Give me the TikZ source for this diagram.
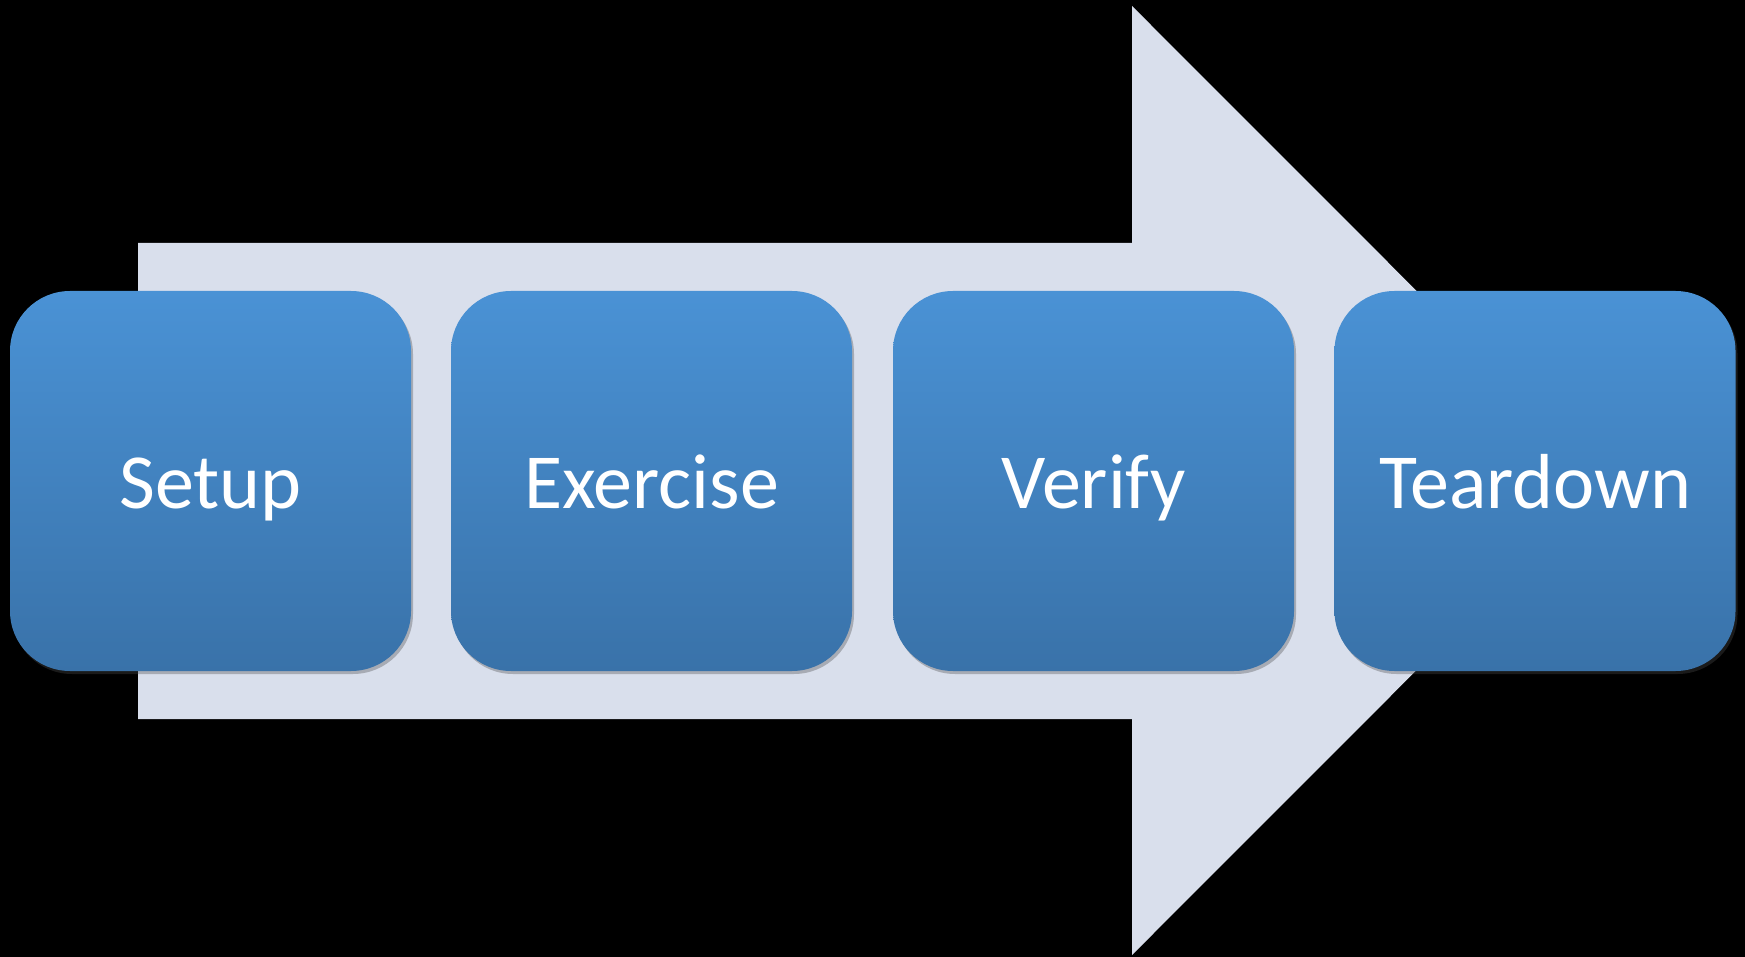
\documentclass[tikz,border=0pt]{standalone}
\usepackage{fontspec}
\setmainfont{Carlito}
\usetikzlibrary{shadows}
\definecolor{arrowfill}{HTML}{D9DFEC}
\definecolor{boxtop}{HTML}{4A92D5}
\definecolor{boxbot}{HTML}{3972A9}
\tikzset{
  stepbox/.style={rectangle, rounded corners=60pt, minimum width=401pt, minimum height=380pt,
    inner sep=0pt, top color=boxtop, bottom color=boxbot, draw=none,
    drop shadow={opacity=0.35, shadow xshift=2pt, shadow yshift=-3pt, fill=black!70},
    text=white, font=\fontsize{78}{90}\selectfont, text height=54pt, text depth=0pt, align=center}
}
\begin{document}
\begin{tikzpicture}[x=1pt,y=-1pt]
\fill[black] (0,0) rectangle (1745,957);
\useasboundingbox (0,0) rectangle (1745,957);
\fill[arrowfill] (138,243) -- (1132,243) -- (1132,6) -- (1606,480.5) -- (1132,955) -- (1132,719) -- (138,719) -- cycle;
\node[stepbox] (setup) at (210.5,481) {Setup};
\node[stepbox] (exercise) at (651.5,481) {Exercise};
\node[stepbox] (verify) at (1093.5,481) {Verify};
\node[stepbox] (teardown) at (1535,481) {Teardown};
\end{tikzpicture}
\end{document}
